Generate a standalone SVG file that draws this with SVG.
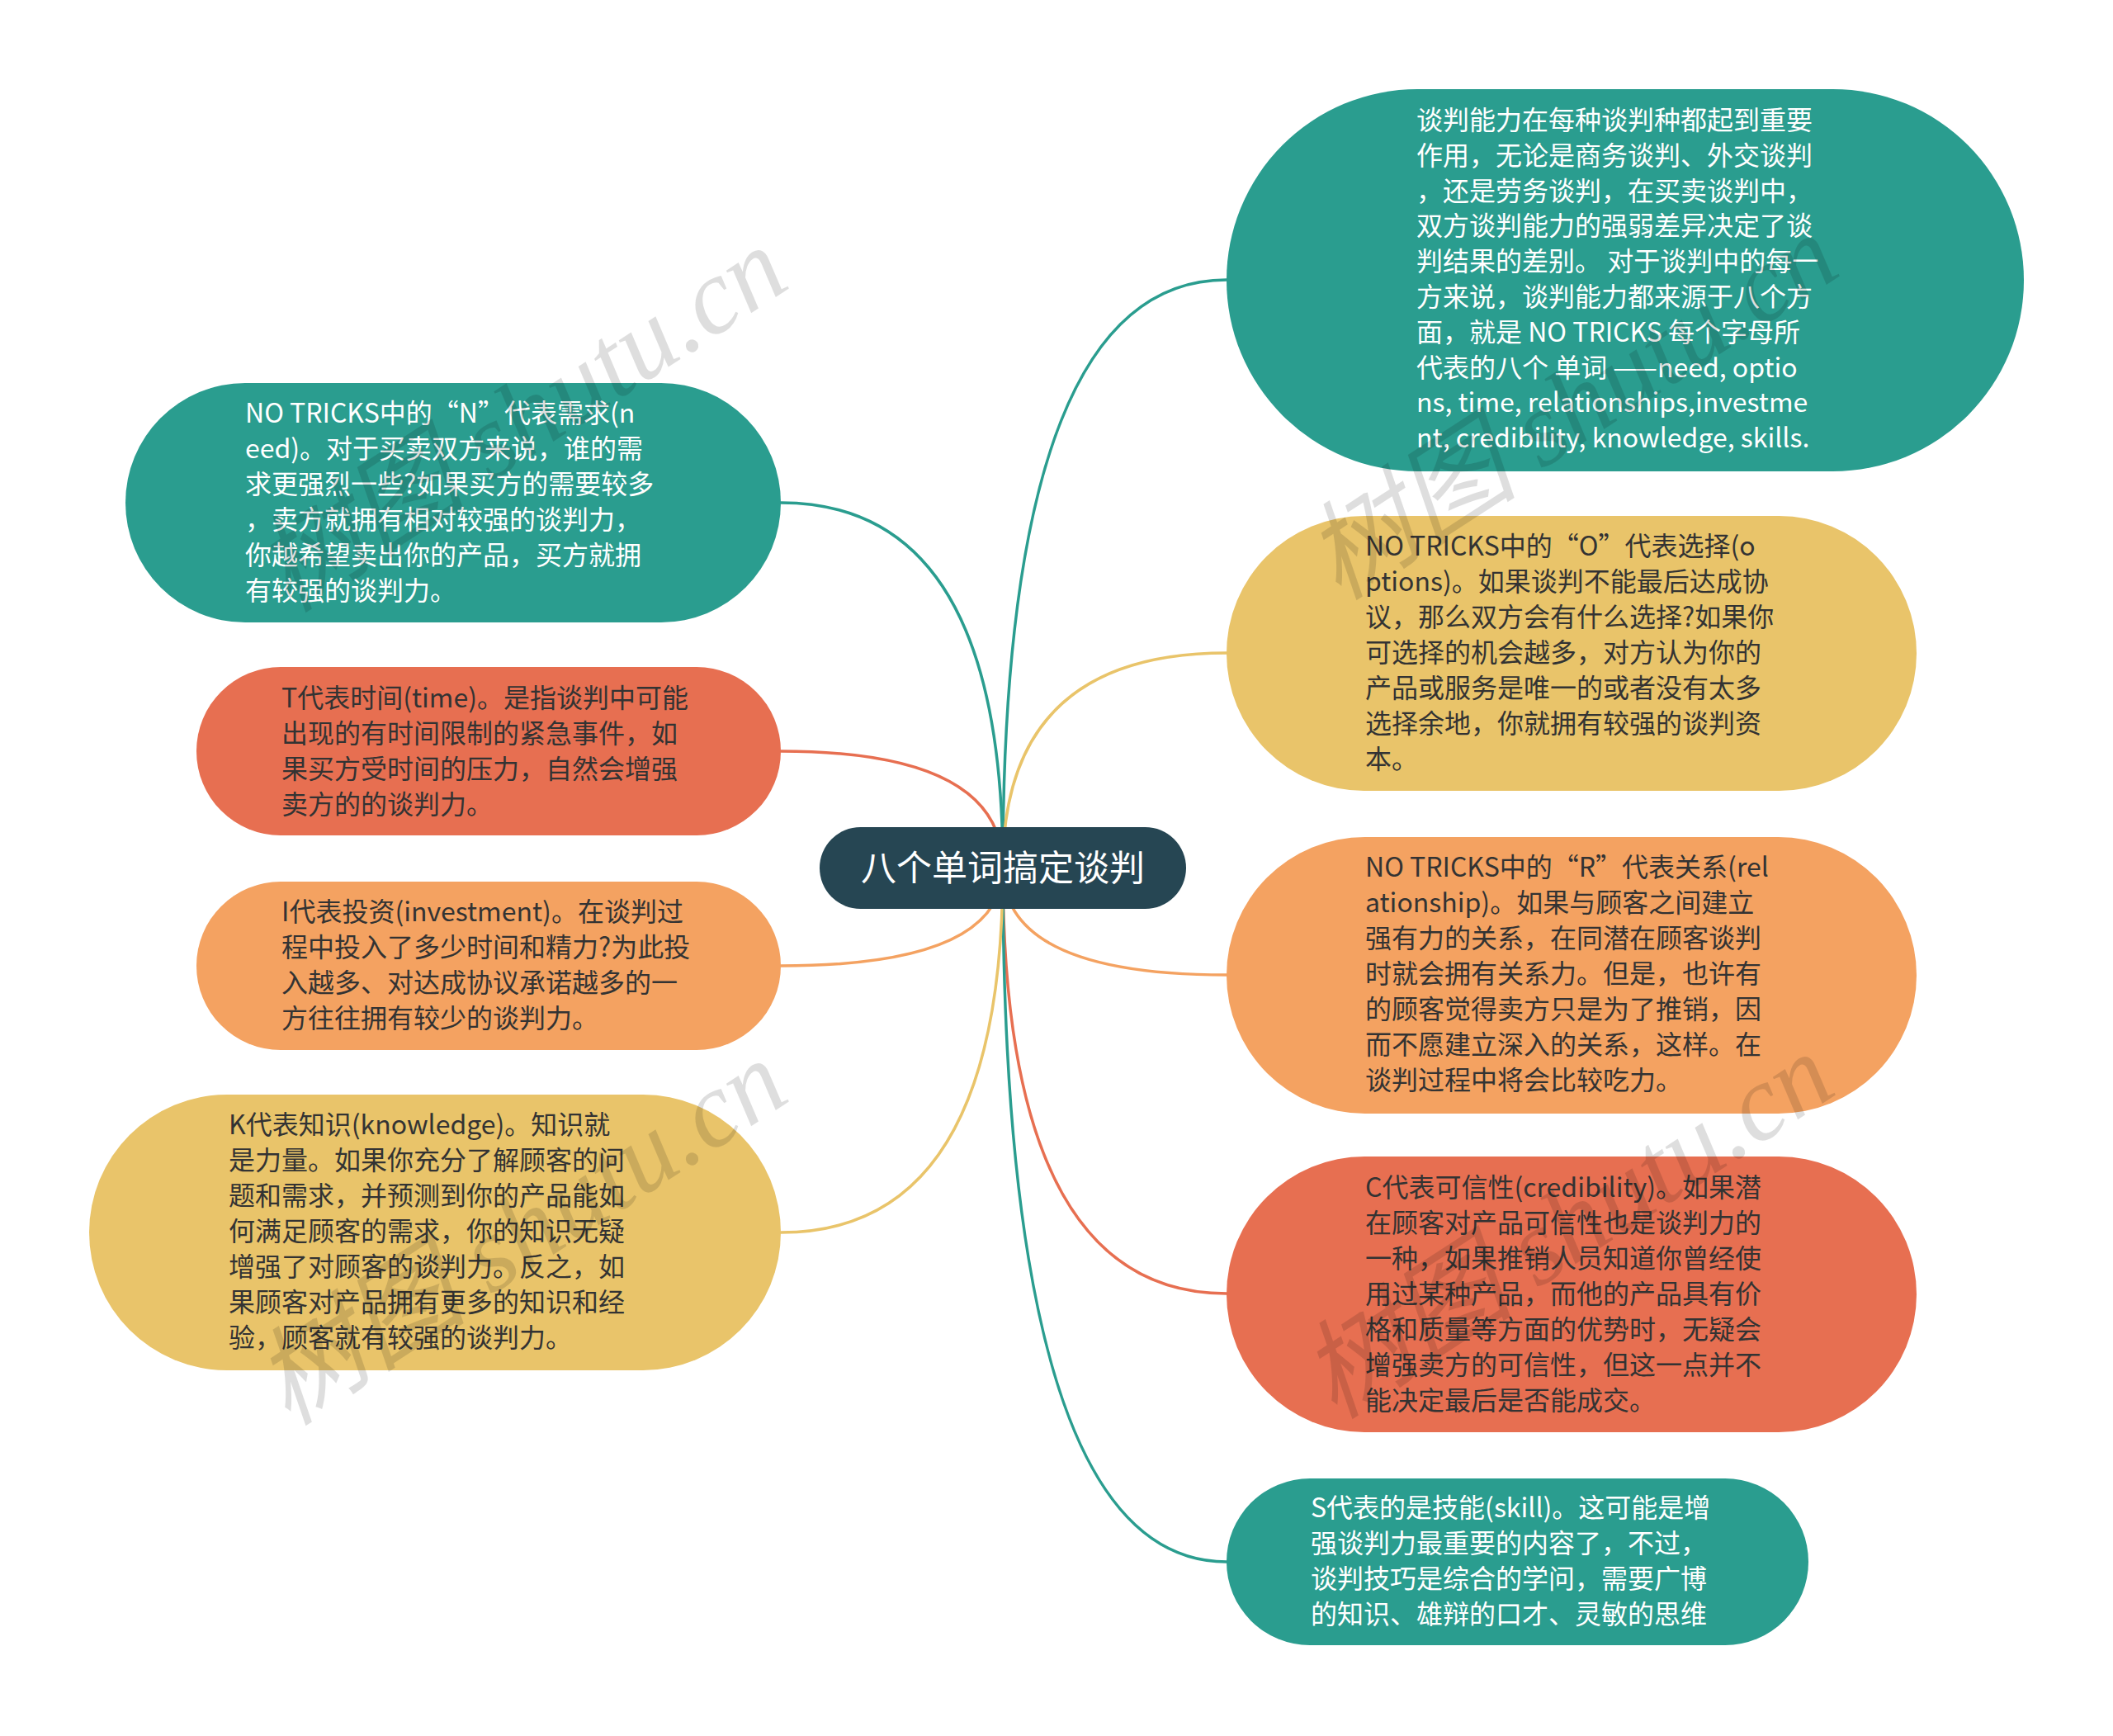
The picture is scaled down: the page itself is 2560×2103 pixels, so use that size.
<svg xmlns="http://www.w3.org/2000/svg" width="2560" height="2103" viewBox="0 0 2560 2103">
<style>
.t{font-family:"Noto Sans CJK SC","Noto Sans",sans-serif;font-size:32px}
.w{fill:#ffffff}
.d{fill:#333333}
.c{fill:none;stroke-width:3.5;stroke-linecap:round}
.teal{fill:#2A9D8F}.yel{fill:#E9C46A}.ora{fill:#F4A261}.red{fill:#E76F51}
.wm{font-family:"Liberation Serif","Noto Sans CJK SC",serif;font-style:italic;font-size:130px;fill:#000000;fill-opacity:0.13}
</style>
<rect width="2560" height="2103" fill="#ffffff"/>
<g id="connectors">
<path class="c" stroke="#2A9D8F" d="M1215 1051 Q1215 339 1486 339"/>
<path class="c" stroke="#E9C46A" d="M1215 1051 Q1215 791 1486 791"/>
<path class="c" stroke="#F4A261" d="M1215 1051 Q1215 1181 1486 1181"/>
<path class="c" stroke="#E76F51" d="M1215 1051 Q1215 1567 1486 1567"/>
<path class="c" stroke="#2A9D8F" d="M1215 1051 Q1215 1892 1486 1892"/>
<path class="c" stroke="#2A9D8F" d="M1215 1051 Q1215 609 946 609"/>
<path class="c" stroke="#E76F51" d="M1215 1051 Q1215 910 946 910"/>
<path class="c" stroke="#F4A261" d="M1215 1051 Q1215 1170 946 1170"/>
<path class="c" stroke="#E9C46A" d="M1215 1051 Q1215 1493 946 1493"/>
</g>
<g id="center">
<rect x="993" y="1002" width="444" height="99" rx="49.5" fill="#264653"/>
<text class="t w" x="1215" y="1067" text-anchor="middle" style="font-size:43px">八个单词搞定谈判</text>
</g>
<g id="node-intro">
<rect class="teal" x="1486" y="108" width="966" height="463" rx="231.5"/>
<text class="t w">
<tspan x="1716" y="157">谈判能力在每种谈判种都起到重要</tspan>
<tspan x="1716" y="200">作用，无论是商务谈判、外交谈判</tspan>
<tspan x="1716" y="243">，还是劳务谈判，在买卖谈判中，</tspan>
<tspan x="1716" y="285">双方谈判能力的强弱差异决定了谈</tspan>
<tspan x="1716" y="328">判结果的差别。 对于谈判中的每一</tspan>
<tspan x="1716" y="371">方来说，谈判能力都来源于八个方</tspan>
<tspan x="1716" y="414">面，就是 NO TRICKS 每个字母所</tspan>
<tspan x="1716" y="457">代表的八个 单词 ——need, optio</tspan>
<tspan x="1716" y="499">ns, time, relationships,investme</tspan>
<tspan x="1716" y="542">nt, credibility, knowledge, skills.</tspan>
</text>
</g>
<g id="node-O">
<rect class="yel" x="1486" y="625" width="836" height="333" rx="166.5"/>
<text class="t d">
<tspan x="1654" y="673">NO TRICKS中的“O”代表选择(o</tspan>
<tspan x="1654" y="716">ptions)。如果谈判不能最后达成协</tspan>
<tspan x="1654" y="759">议，那么双方会有什么选择?如果你</tspan>
<tspan x="1654" y="802">可选择的机会越多，对方认为你的</tspan>
<tspan x="1654" y="845">产品或服务是唯一的或者没有太多</tspan>
<tspan x="1654" y="888">选择余地，你就拥有较强的谈判资</tspan>
<tspan x="1654" y="931">本。</tspan>
</text>
</g>
<g id="node-R">
<rect class="ora" x="1486" y="1014" width="836" height="335" rx="167.5"/>
<text class="t d">
<tspan x="1654" y="1062">NO TRICKS中的“R”代表关系(rel</tspan>
<tspan x="1654" y="1105">ationship)。如果与顾客之间建立</tspan>
<tspan x="1654" y="1148">强有力的关系，在同潜在顾客谈判</tspan>
<tspan x="1654" y="1191">时就会拥有关系力。但是，也许有</tspan>
<tspan x="1654" y="1234">的顾客觉得卖方只是为了推销，因</tspan>
<tspan x="1654" y="1277">而不愿建立深入的关系，这样。在</tspan>
<tspan x="1654" y="1320">谈判过程中将会比较吃力。</tspan>
</text>
</g>
<g id="node-C">
<rect class="red" x="1486" y="1401" width="836" height="334" rx="167"/>
<text class="t d">
<tspan x="1654" y="1450">C代表可信性(credibility)。如果潜</tspan>
<tspan x="1654" y="1493">在顾客对产品可信性也是谈判力的</tspan>
<tspan x="1654" y="1536">一种，如果推销人员知道你曾经使</tspan>
<tspan x="1654" y="1579">用过某种产品，而他的产品具有价</tspan>
<tspan x="1654" y="1622">格和质量等方面的优势时，无疑会</tspan>
<tspan x="1654" y="1665">增强卖方的可信性，但这一点并不</tspan>
<tspan x="1654" y="1708">能决定最后是否能成交。</tspan>
</text>
</g>
<g id="node-S">
<rect class="teal" x="1486" y="1791" width="705" height="202" rx="101"/>
<text class="t w">
<tspan x="1588" y="1838">S代表的是技能(skill)。这可能是增</tspan>
<tspan x="1588" y="1881">强谈判力最重要的内容了，不过，</tspan>
<tspan x="1588" y="1924">谈判技巧是综合的学问，需要广博</tspan>
<tspan x="1588" y="1967">的知识、雄辩的口才、灵敏的思维</tspan>
</text>
</g>
<g id="node-N">
<rect class="teal" x="152" y="464" width="794" height="290" rx="145"/>
<text class="t w">
<tspan x="297" y="512">NO TRICKS中的“N”代表需求(n</tspan>
<tspan x="297" y="555">eed)。对于买卖双方来说，谁的需</tspan>
<tspan x="297" y="598">求更强烈一些?如果买方的需要较多</tspan>
<tspan x="297" y="641">，卖方就拥有相对较强的谈判力，</tspan>
<tspan x="297" y="684">你越希望卖出你的产品，买方就拥</tspan>
<tspan x="297" y="727">有较强的谈判力。</tspan>
</text>
</g>
<g id="node-T">
<rect class="red" x="238" y="808" width="708" height="204" rx="102"/>
<text class="t d">
<tspan x="341" y="857">T代表时间(time)。是指谈判中可能</tspan>
<tspan x="341" y="900">出现的有时间限制的紧急事件，如</tspan>
<tspan x="341" y="943">果买方受时间的压力，自然会增强</tspan>
<tspan x="341" y="986">卖方的的谈判力。</tspan>
</text>
</g>
<g id="node-I">
<rect class="ora" x="238" y="1068" width="708" height="204" rx="102"/>
<text class="t d">
<tspan x="341" y="1116">I代表投资(investment)。在谈判过</tspan>
<tspan x="341" y="1159">程中投入了多少时间和精力?为此投</tspan>
<tspan x="341" y="1202">入越多、对达成协议承诺越多的一</tspan>
<tspan x="341" y="1245">方往往拥有较少的谈判力。</tspan>
</text>
</g>
<g id="node-K">
<rect class="yel" x="108" y="1326" width="838" height="334" rx="167"/>
<text class="t d">
<tspan x="277" y="1374">K代表知识(knowledge)。知识就</tspan>
<tspan x="277" y="1417">是力量。如果你充分了解顾客的问</tspan>
<tspan x="277" y="1460">题和需求，并预测到你的产品能如</tspan>
<tspan x="277" y="1503">何满足顾客的需求，你的知识无疑</tspan>
<tspan x="277" y="1546">增强了对顾客的谈判力。反之，如</tspan>
<tspan x="277" y="1589">果顾客对产品拥有更多的知识和经</tspan>
<tspan x="277" y="1632">验，顾客就有较强的谈判力。</tspan>
</text>
</g>
<g id="watermark">
<text class="wm" transform="translate(655 545) rotate(-33)" text-anchor="middle">树图 shutu.cn</text>
<text class="wm" transform="translate(1928 530) rotate(-33)" text-anchor="middle">树图 shutu.cn</text>
<text class="wm" transform="translate(655 1530) rotate(-33)" text-anchor="middle">树图 shutu.cn</text>
<text class="wm" transform="translate(1923 1522) rotate(-33)" text-anchor="middle">树图 shutu.cn</text>
</g>
</svg>
